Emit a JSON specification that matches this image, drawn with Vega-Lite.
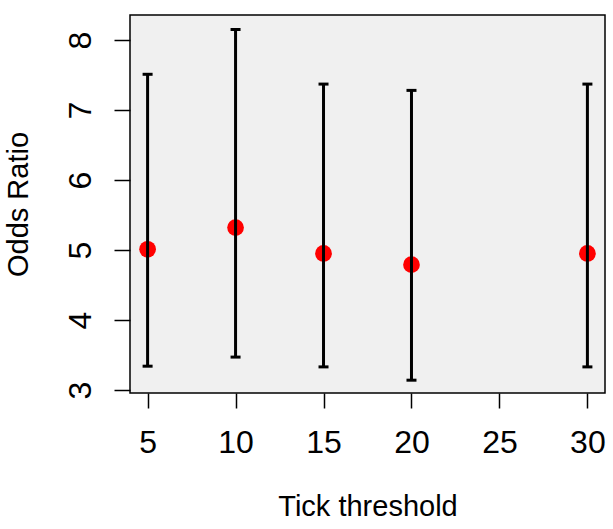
{
  "$schema": "https://vega.github.io/schema/vega-lite/v6.json",
  "width": 475,
  "height": 378,
  "autosize": "none",
  "padding": {"left": 130, "top": 15, "right": 8, "bottom": 136},
  "background": "white",
  "config": {
    "font": "Liberation Sans",
    "view": {"fill": "#f0f0f0", "stroke": "black", "strokeWidth": 1.5}
  },
  "data": {
    "values": [
      {"threshold": 5, "or": 5.01, "lo": 3.34, "hi": 7.51},
      {"threshold": 10, "or": 5.32, "lo": 3.47, "hi": 8.15},
      {"threshold": 15, "or": 4.95, "lo": 3.33, "hi": 7.37},
      {"threshold": 20, "or": 4.79, "lo": 3.14, "hi": 7.28},
      {"threshold": 30, "or": 4.95, "lo": 3.33, "hi": 7.37}
    ]
  },
  "encoding": {
    "x": {
      "field": "threshold",
      "type": "quantitative",
      "scale": {"domain": [4, 31], "nice": false, "zero": false},
      "axis": {
        "values": [5, 10, 15, 20, 25, 30],
        "format": "d",
        "grid": false,
        "domain": false,
        "tickSize": 15,
        "tickWidth": 1.5,
        "tickColor": "black",
        "labelFontSize": 32,
        "labelColor": "black",
        "labelPadding": 19,
        "labelBaseline": "top",
        "labelFlush": false,
        "labelOverlap": false,
        "title": "Tick threshold",
        "titleFontSize": 29,
        "titleFontWeight": "normal",
        "titleColor": "black",
        "titlePadding": 34
      }
    }
  },
  "layer": [
    {
      "mark": {"type": "point", "filled": true, "color": "#ff0000", "opacity": 1, "size": 280, "shape": "circle"},
      "encoding": {
        "y": {
          "field": "or",
          "type": "quantitative",
          "scale": {"domain": [2.957, 8.357], "nice": false, "zero": false},
          "axis": {
            "values": [3, 4, 5, 6, 7, 8],
            "format": "d",
            "grid": false,
            "domain": false,
            "tickSize": 16,
            "tickWidth": 1.5,
            "tickColor": "black",
            "labelFontSize": 32,
            "labelColor": "black",
            "labelAngle": -90,
            "labelAlign": "center",
            "labelBaseline": "alphabetic",
            "labelPadding": 24,
            "labelFlush": false,
            "labelOverlap": false,
            "title": "Odds Ratio",
            "titleFontSize": 29,
            "titleFontWeight": "normal",
            "titleColor": "black",
            "titlePadding": 31
          }
        }
      }
    },
    {
      "mark": {"type": "rule", "color": "black", "strokeWidth": 3},
      "encoding": {
        "y": {"field": "lo", "type": "quantitative"},
        "y2": {"field": "hi"}
      }
    },
    {
      "mark": {"type": "tick", "orient": "horizontal", "color": "black", "size": 10, "thickness": 3, "opacity": 1},
      "encoding": {"y": {"field": "lo", "type": "quantitative"}}
    },
    {
      "mark": {"type": "tick", "orient": "horizontal", "color": "black", "size": 10, "thickness": 3, "opacity": 1},
      "encoding": {"y": {"field": "hi", "type": "quantitative"}}
    }
  ]
}
